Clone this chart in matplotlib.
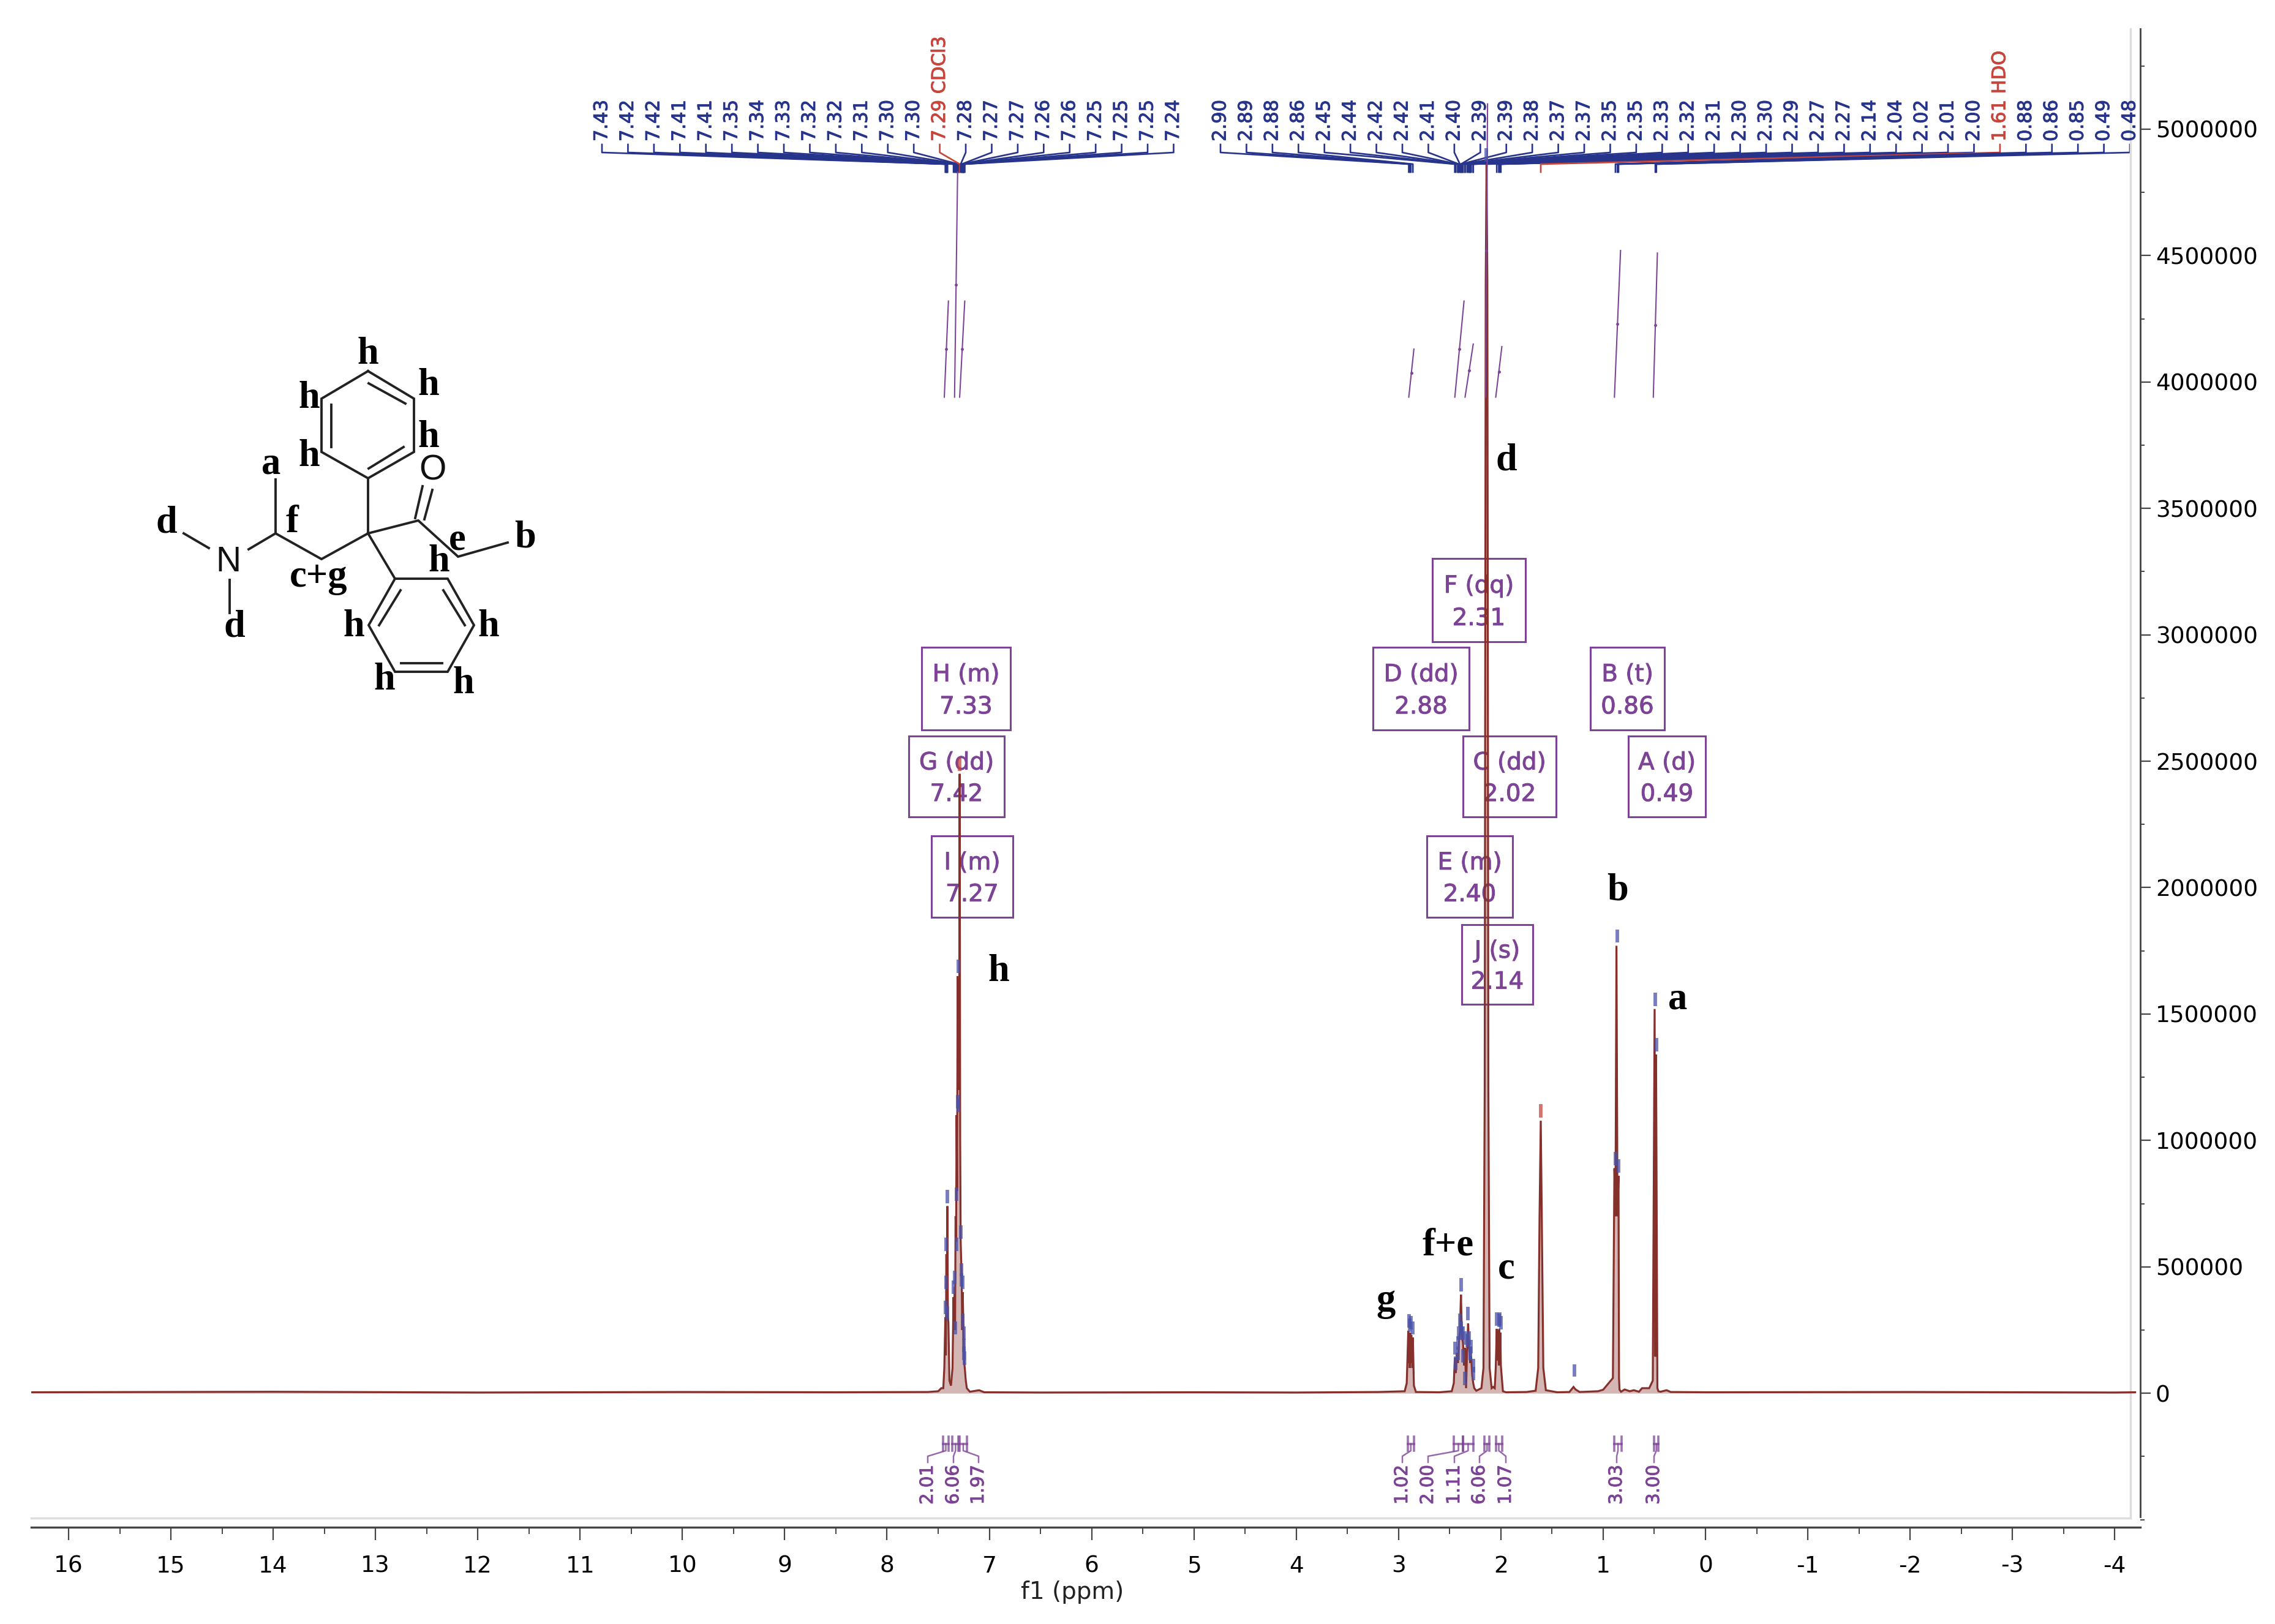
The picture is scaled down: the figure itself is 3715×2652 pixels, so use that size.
import matplotlib
matplotlib.use("Agg")
import matplotlib.pyplot as plt
import matplotlib.patheffects as pe
from matplotlib.patches import Rectangle
from matplotlib.ticker import FixedLocator, MultipleLocator

plt.rcParams['axes.unicode_minus'] = False

# spectrum trace, (ppm, intensity) by region
baseline_left = [(16.36, 4e3), (14.0, 6e3), (12.0, 3e3), (10.0, 5e3), (8.5, 4e3), (7.6, 5e3), (7.5, 8e3)]
aromatic = [(7.47, 2e4), (7.45, 2e4), (7.44, 1e5), (7.43, 3e5), (7.425, 1.5e5), (7.42, 5.5e5), (7.415, 3e5),
            (7.41, 7.4e5), (7.405, 3e5), (7.40, 2.8e5), (7.39, 5e4), (7.375, 3e4), (7.36, 1e5), (7.35, 3.8e5),
            (7.345, 2.5e5), (7.34, 4.2e5), (7.335, 2.5e5), (7.33, 7e5), (7.325, 6e5), (7.32, 1.1e6),
            (7.315, 8e5), (7.31, 1.65e6), (7.305, 1.2e6), (7.30, 1.65e6), (7.295, 1.2e6), (7.29, 2.45e6),
            (7.285, 1e6), (7.28, 6e5), (7.27, 4.5e5), (7.265, 2.5e5), (7.26, 4e5), (7.25, 2e5), (7.245, 1.2e5),
            (7.24, 1e5), (7.23, 5e4), (7.22, 2e4), (7.19, 6e3), (7.1, 1.2e4), (7.05, 4e3)]
baseline_mid = [(6.5, 3e3), (5.0, 4e3), (4.0, 3e3), (3.2, 5e3)]
peak_g = [(2.94, 8e3), (2.92, 4e4), (2.905, 2.47e5), (2.90, 1.2e5), (2.895, 2.3e5), (2.89, 1e5), (2.885, 2.4e5),
          (2.88, 1.2e5), (2.875, 2.3e5), (2.865, 1e5), (2.86, 2.2e5), (2.85, 3e4), (2.83, 5e3), (2.6, 4e3)]
peak_fe = [(2.48, 8e3), (2.46, 4e4), (2.45, 1.4e5), (2.44, 8e4), (2.43, 1.6e5), (2.42, 1.2e5), (2.41, 2e5),
           (2.40, 2.5e5), (2.39, 3.9e5), (2.38, 2.2e5), (2.37, 2e5), (2.36, 1.1e5), (2.35, 1.8e5), (2.34, 2e4),
           (2.33, 1.7e5), (2.32, 2.76e5), (2.31, 1.8e5), (2.30, 1.2e5), (2.29, 1.45e5), (2.28, 7e4), (2.27, 4e4),
           (2.26, 2e4), (2.24, 1e4)]
peak_d = [(2.19, 2e4), (2.17, 1e5), (2.158, 1.2e6), (2.148, 4.4e6), (2.14, 4.86e6), (2.132, 4.4e6),
          (2.122, 1.2e6), (2.11, 1e5), (2.09, 2e4), (2.075, 2.5e4), (2.06, 2e4)]
peak_c = [(2.05, 1e5), (2.04, 2.55e5), (2.035, 1.3e5), (2.03, 2.5e5), (2.02, 1.1e5), (2.015, 2.55e5), (2.01, 1.2e5),
          (2.005, 2.4e5), (2.0, 1.1e5), (1.98, 8e3), (1.95, 4e3), (1.75, 5e3)]
peak_hdo = [(1.66, 1e4), (1.635, 1e5), (1.622, 7e5), (1.61, 1.078e6), (1.60, 7e5), (1.585, 1e5), (1.56, 1.2e4),
            (1.45, 4e3), (1.33, 5e3), (1.29, 2.5e4), (1.27, 1.5e4), (1.23, 5e3), (1.05, 8e3), (1.0, 1.4e4)]
peak_b = [(0.905, 6e4), (0.89, 8.9e5), (0.88, 7e5), (0.87, 1.77e6), (0.86, 7e5), (0.85, 8.6e5), (0.845, 6e4),
          (0.84, 1.4e4), (0.825, 6e3), (0.79, 1.5e4), (0.74, 8e3), (0.70, 1.2e4), (0.65, 6e3), (0.62, 2e4)]
peak_a = [(0.55, 2e4), (0.515, 5e4), (0.497, 1.52e6), (0.49, 1.45e5), (0.483, 1.34e6), (0.47, 2e4), (0.46, 8e3),
          (0.44, 6e3), (0.38, 1.2e4), (0.34, 5e3)]
baseline_right = [(0.0, 4e3), (-2.0, 5e3), (-4.0, 3e3), (-4.2, 4e3)]

# peak picks
left_labels = ['7.43', '7.42', '7.42', '7.41', '7.41', '7.35', '7.34', '7.33', '7.32', '7.32', '7.31', '7.30',
               '7.30', '7.29 CDCl3', '7.28', '7.27', '7.27', '7.26', '7.26', '7.25', '7.25', '7.25', '7.24']
left_heights = [3e5, 5.5e5, 4e5, 7.4e5, 2.8e5, 3.8e5, 4.2e5, 2.2e5, 5.5e5, 7.5e5, 1.115e6, 1.65e6,
                1.1e6, 2.45e6, 6e5, 4.5e5, 4.1e5, 2.5e5, 4e5, 2e5, 1.5e5, 1.2e5, 1e5]
right_labels = ['2.90', '2.89', '2.88', '2.86', '2.45', '2.44', '2.42', '2.42', '2.41', '2.40', '2.39', '2.39',
                '2.38', '2.37', '2.37', '2.35', '2.35', '2.33', '2.32', '2.31', '2.30', '2.30', '2.29', '2.27',
                '2.27', '2.14', '2.04', '2.02', '2.01', '2.00', '1.61 HDO', '0.88', '0.86', '0.85', '0.49', '0.48']
right_heights = [2.47e5, 2.3e5, 2.4e5, 2.2e5, 1.4e5, 8e4, 1.6e5, 1.2e5, 2e5, 2.5e5, 3.9e5, 2.2e5,
                 2e5, 2e5, 1.1e5, 1.8e5, 2e4, 1.7e5, 2.76e5, 1.8e5, 1.2e5, 1.2e5, 1.45e5, 7e4,
                 4e4, 4.86e6, 2.55e5, 2.5e5, 2.55e5, 2.4e5, 1.078e6, 8.9e5, 1.77e6, 8.6e5, 1.52e6, 1.34e6]
small_peak = (1.28, 2.5e4)

# integral curves: start ppm, end ppm, low, high
integral_curves = [(7.44, 7.40, 3.94e6, 4.32e6), (7.34, 7.31, 3.94e6, 4.83e6), (7.29, 7.24, 3.94e6, 4.32e6),
                   (2.90, 2.85, 3.94e6, 4.13e6), (2.45, 2.36, 3.94e6, 4.32e6), (2.35, 2.27, 3.94e6, 4.15e6),
                   (2.15, 2.13, 3.94e6, 5.1e6), (2.05, 1.99, 3.94e6, 4.14e6), (0.89, 0.83, 3.94e6, 4.52e6),
                   (0.51, 0.47, 3.94e6, 4.51e6)]
# integrals under the trace
integral_values = ['2.01', '6.06', '1.97', '1.02', '2.00', '1.11', '6.06', '1.07', '3.03', '3.00']
integral_starts = [7.45, 7.36, 7.29, 2.91, 2.46, 2.37, 2.16, 2.05, 0.89, 0.50]
integral_ends = [7.40, 7.30, 7.22, 2.85, 2.37, 2.27, 2.11, 1.99, 0.82, 0.46]
integral_x = [1515, 1557, 1598, 2290, 2332, 2375, 2416, 2459, 2640, 2701]

# multiplet boxes: first line, second line, left, right, top, bottom
boxes = [('H (m)', '7.33', 1505, 1650, 1057, 1192), ('G (dd)', '7.42', 1484, 1640, 1202, 1334),
         ('I (m)', '7.27', 1521, 1654, 1365, 1498), ('D (dd)', '2.88', 2242, 2399, 1057, 1192),
         ('F (dq)', '2.31', 2339, 2491, 912, 1048), ('C (dd)', '2.02', 2389, 2541, 1202, 1334),
         ('E (m)', '2.40', 2330, 2470, 1365, 1498), ('J (s)', '2.14', 2387, 2503, 1510, 1640),
         ('B (t)', '0.86', 2597, 2718, 1057, 1192), ('A (d)', '0.49', 2659, 2785, 1202, 1334)]

# assignments on the spectrum
peak_letters = [('d', 2460, 749), ('b', 2642, 1450), ('a', 2740, 1628), ('h', 1631, 1583),
                ('f+e', 2365, 2031), ('c', 2460, 2069), ('g', 2263, 2121)]

# structure drawing
mol_bonds = [[(601, 606), (676, 651), (676, 738), (601, 781), (525, 738), (525, 651), (601, 606)],
             [(602, 626), (662, 659)], [(541, 661), (541, 730)], [(602, 765), (659, 730)],
             [(601, 781), (601, 871)], [(601, 871), (683, 850), (748, 909), (829, 886)],
             [(678, 846), (690, 794)], [(693, 848), (706, 800)],
             [(601, 871), (525, 913), (450, 871), (406, 897)], [(450, 871), (450, 783)],
             [(341, 895), (300, 871)], [(375, 947), (375, 1001)], [(601, 871), (645, 945)],
             [(645, 945), (731, 945), (774, 1021), (731, 1097), (645, 1097), (602, 1021), (645, 945)],
             [(724, 964), (759, 1021)], [(654, 964), (619, 1021)], [(655, 1083), (722, 1083)]]
mol_letters = [('h', 601, 575), ('h', 700, 626), ('h', 505, 647), ('h', 700, 711), ('h', 505, 742), ('a', 443, 754),
               ('d', 272, 850), ('f', 477, 850), ('e', 747, 879), ('b', 858, 875), ('h', 717, 914), ('c+g', 520, 939),
               ('h', 578, 1020), ('h', 798, 1020), ('d', 383, 1020), ('h', 628, 1107), ('h', 757, 1113)]
mol_atoms = [('O', 706, 765), ('N', 373, 914)]

y_ticks = [0, 500000, 1000000, 1500000, 2000000, 2500000, 3000000, 3500000, 4000000, 4500000, 5000000]

W, H = 3716, 2652
trace_color = '#86302c'
blue = '#27348b'
tip_blue = '#4a52a8'
red = '#c8453c'
purple = '#7d4396'

trace = (baseline_left + aromatic + baseline_mid + peak_g + peak_fe + peak_d + peak_c + peak_hdo
         + peak_b + peak_a + baseline_right)
shift = [t[0] for t in trace]
intensity = [t[1] for t in trace]

fig = plt.figure(figsize=(W / 100, H / 100), dpi=100, facecolor='white')

# overlay in picture pixels, for the text and the structure
ov = fig.add_axes([0, 0, 1, 1], zorder=0)
ov.set_xlim(0, W)
ov.set_ylim(H, 0)
ov.axis('off')

ax = fig.add_axes([51 / W, 1 - 2494 / H, (3495 - 51) / W, (2494 - 47) / H], zorder=1)
ax.patch.set_visible(False)
ax.set_xlim(16.365, -4.25)
ax.set_ylim(-530000, 5397000)

ax.fill_between(shift, intensity, 0, color=trace_color, alpha=0.35, lw=0)
ax.plot(shift, intensity, color=trace_color, lw=2.3, solid_joinstyle='miter')


def ppm_x(p):
    return ov.transData.inverted().transform(ax.transData.transform((p, 0)))[0]


def heavy(col, w=0.7):
    return [pe.withStroke(linewidth=w, foreground=col)]


# blue tips over the picked peaks, then the fan of lines up to the labels
def pick_group(labels, heights, first_x):
    for i, (lab, h) in enumerate(zip(labels, heights)):
        val = float(lab.split()[0])
        col = red if ' ' in lab else blue
        ax.plot([val, val], [h + 1.2e4, h + 6.5e4], color=red if ' ' in lab else tip_blue,
                lw=4.2, alpha=0.75, solid_capstyle='butt', zorder=4)
        lx = first_x + i * 42.43
        px = ppm_x(val)
        ov.plot([lx, lx, px, px], [236, 249, 268, 281], color=col, lw=1.9)
        ov.text(lx, 231, lab, rotation=90, ha='center', va='bottom', color=col, fontsize=22,
                path_effects=heavy(col))


pick_group(left_labels, left_heights, 983)
pick_group(right_labels, right_heights, 1993)
ax.plot([small_peak[0]] * 2, [small_peak[1] + 4e4, small_peak[1] + 9e4], color=tip_blue, lw=4.2,
        alpha=0.75, solid_capstyle='butt')

# integral curves above the trace
for p0, p1, low, high in integral_curves:
    ax.plot([p0, p1], [low, high], color=purple, lw=1.5, zorder=3)
    ax.plot([(p0 + p1) / 2], [(low + high) / 2], '.', color=purple, ms=5, zorder=3)

# integrals below the trace
for lab, p0, p1, tx in zip(integral_values, integral_starts, integral_ends, integral_x):
    x0, x1 = ppm_x(p0), ppm_x(p1)
    mid = (x0 + x1) / 2
    ov.plot([x0, x0], [2346, 2369], color=purple, lw=2.6, alpha=0.75)
    ov.plot([x1, x1], [2346, 2369], color=purple, lw=2.6, alpha=0.75)
    ov.plot([x0, x1], [2358, 2358], color=purple, lw=2.6, alpha=0.75)
    ov.plot([mid, mid, tx, tx], [2358, 2369, 2378, 2388], color=purple, lw=1.8, alpha=0.8)
    ov.text(tx, 2457, lab, rotation=90, ha='center', va='bottom', color=purple, fontsize=21,
            path_effects=heavy(purple))

for line1, line2, x0, x1, y0, y1 in boxes:
    ov.add_patch(Rectangle((x0, y0), x1 - x0, y1 - y0, fill=False, edgecolor=purple, lw=2.2))
    xc = (x0 + x1) / 2
    ov.text(xc, y0 + (y1 - y0) * 0.33, line1, ha='center', va='center', color=purple, fontsize=28,
            path_effects=heavy(purple))
    ov.text(xc, y0 + (y1 - y0) * 0.72, line2, ha='center', va='center', color=purple, fontsize=28,
            path_effects=heavy(purple))

for s, x, y in peak_letters + mol_letters:
    ov.text(x, y + 4, s, ha='center', va='center', family='Liberation Serif', weight='bold', fontsize=45,
            color='black')
for s, x, y in mol_atoms:
    ov.text(x, y + 4, s, ha='center', va='center', family='Liberation Sans', fontsize=41, color='#111111')
for bond in mol_bonds:
    ov.plot([b[0] for b in bond], [b[1] for b in bond], color='#222222', lw=2.8, solid_joinstyle='miter')

# light inner frame lines
ov.plot([51, 3479], [2479, 2479], color='#dddddd', lw=2.5)
ov.plot([3479, 3479], [47, 2479], color='#dddddd', lw=2.5)

# axes
ax.spines['top'].set_visible(False)
ax.spines['left'].set_visible(False)
ax.spines['bottom'].set_color('#444444')
ax.spines['bottom'].set_linewidth(2.4)
ax.spines['right'].set_color('#444444')
ax.spines['right'].set_linewidth(2.0)
ax.spines['right'].set_bounds(-489000, 5397000)

ax.xaxis.set_major_locator(MultipleLocator(1))
ax.xaxis.set_minor_locator(MultipleLocator(0.5))
ax.yaxis.tick_right()
ax.yaxis.set_major_locator(FixedLocator(y_ticks))
ax.yaxis.set_minor_locator(MultipleLocator(250000))
ax.ticklabel_format(axis='y', style='plain')
ax.tick_params(axis='x', which='major', length=15, width=1.6, color='#444444', labelsize=27, pad=18)
ax.tick_params(axis='x', which='minor', length=8, width=1.4, color='#444444')
ax.tick_params(axis='y', which='major', length=12, width=1.6, color='#444444', labelsize=27, pad=6)
ax.tick_params(axis='y', which='minor', length=5, width=1.4, color='#444444')
for t in ax.get_yticklabels():
    t.set_ha('left')
ov.text(1751, 2600, 'f1 (ppm)', ha='center', va='center', fontsize=28, color='#222222')

fig.savefig('out.png', dpi=100, facecolor='white')
